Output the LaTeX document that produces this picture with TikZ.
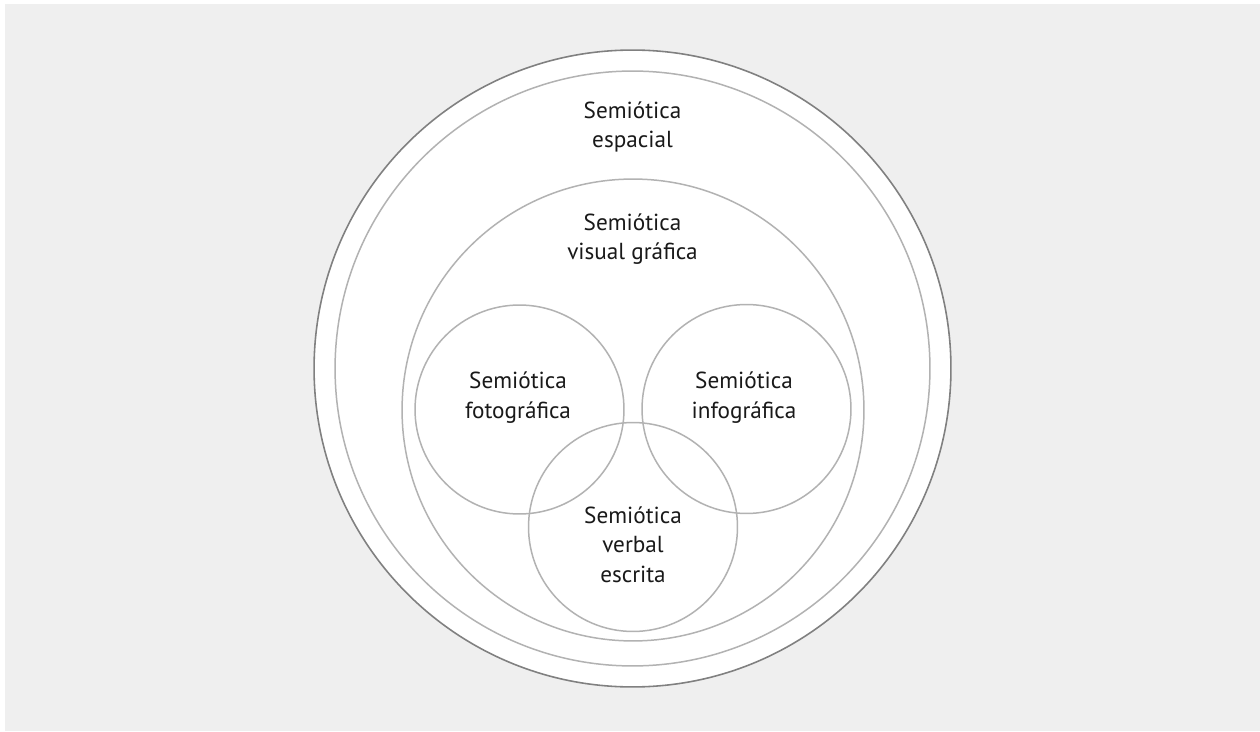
\documentclass[tikz,border=0pt]{standalone}
\usepackage{fontspec}
\setmainfont{PT Sans}
\usepackage{tikz}
\usetikzlibrary{positioning}
\usepackage{xcolor}
\definecolor{panel}{RGB}{239,239,239}
\definecolor{ringline}{RGB}{178,178,178}
\definecolor{outerline}{RGB}{128,128,128}
\definecolor{labeltext}{RGB}{25,25,25}

\tikzset{
  ring/.style={ringline, line width=0.85pt},
  label text/.style={text=labeltext, align=center, anchor=base, inner sep=0pt,
    font=\fontsize{13.2}{16.6}\selectfont}
}

\begin{document}
\begin{tikzpicture}[x=0.02cm, y=0.02cm]
  \useasboundingbox (0,0) rectangle (1260,731);
  \fill[panel] (5,0) rectangle (1260,727);

  % nested circles
  \fill[white] (632.5,362.5) circle[radius=6.37cm];
  \draw[outerline, line width=0.9pt] (632.5,362.5) circle[radius=6.37cm];
  \draw[ring] (632.5,362.5) circle[radius=5.95cm];
  \draw[ring] (633,321) circle[radius=4.62cm];

  % overlapping circles
  \foreach \cx/\cy in {519.5/321.5, 746.5/322, 633/204} {
    \draw[ring] (\cx,\cy) circle[radius=2.09cm];
  }

  % labels (anchored on the last line)
  \node[label text] (espacial) at (632.5,583) {Semiótica\\espacial};
  \node[label text] (visual) at (632.5,471) {Semiótica\\visual gráfica};
  \node[label text] (foto) at (518,313) {Semiótica\\fotográfica};
  \node[label text] (info) at (744,313) {Semiótica\\infográfica};
  \node[label text] (verbal) at (633,149) {Semiótica\\verbal\\escrita};
\end{tikzpicture}
\end{document}
